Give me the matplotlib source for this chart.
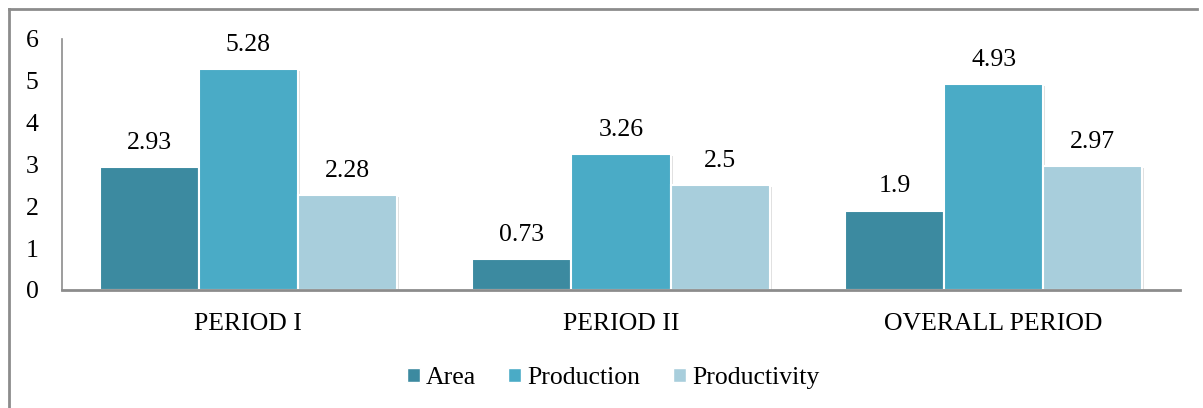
import matplotlib
matplotlib.use("Agg")
import matplotlib.pyplot as plt
from matplotlib.lines import Line2D
from matplotlib.patches import Patch
import matplotlib.patheffects as pe
import numpy as np

categories = ["PERIOD I", "PERIOD II", "OVERALL PERIOD"]
series_names = ["Area", "Production", "Productivity"]
area = [2.93, 0.73, 1.9]
production = [5.28, 3.26, 4.93]
productivity = [2.28, 2.5, 2.97]
value_labels = [["2.93", "0.73", "1.9"], ["5.28", "3.26", "4.93"], ["2.28", "2.5", "2.97"]]
colors = ["#3C8AA0", "#4AABC6", "#A8CEDC"]
yticks = [0, 1, 2, 3, 4, 5, 6]

plt.rcParams["font.family"] = ["Liberation Serif", "DejaVu Serif"]
FS = 18.5

W, H = 1203, 408
fig = plt.figure(figsize=(W / 100, H / 100), dpi=100)
ax = fig.add_axes([62 / W, (H - 290) / H, (1180 - 62) / W, (290 - 39) / H])

x = np.arange(len(categories))
bw = 0.266
data = [area, production, productivity]
shadow = [pe.SimplePatchShadow(offset=(1.5, -1.5), shadow_rgbFace="#000000", alpha=0.12), pe.Normal()]
for i, (vals, col, name) in enumerate(zip(data, colors, series_names)):
    pos = x + (i - 1) * bw
    bars = ax.bar(pos, vals, width=bw, color=col, edgecolor="white", linewidth=1.5, label=name, zorder=2)
    for b in bars:
        b.set_path_effects(shadow)
    for b, lab in zip(bars, value_labels[i]):
        ax.annotate(lab, (b.get_x() + b.get_width() / 2, b.get_height()),
                    xytext=(0, 13), textcoords="offset points",
                    ha="center", va="baseline", fontsize=FS, color="black")

ax.set_xlim(-0.5, len(categories) - 0.5)
ax.set_ylim(0, 6)
ax.set_yticks(yticks)
ax.set_yticklabels([str(t) for t in yticks], fontsize=FS)
ax.set_xticks(x)
ax.set_xticklabels(categories, fontsize=FS)
ax.tick_params(axis="y", length=0, pad=17)
ax.tick_params(axis="x", length=0, pad=16.5)
for s in ["top", "right"]:
    ax.spines[s].set_visible(False)
ax.spines["left"].set_color("#8c8c8c")
ax.spines["left"].set_linewidth(1.2)
ax.spines["bottom"].set_color("#8c8c8c")
ax.spines["bottom"].set_linewidth(2)
ax.spines["bottom"].set_zorder(3)

handles = [Patch(facecolor=c, edgecolor="white", label=n) for c, n in zip(colors, series_names)]
fig.legend(handles=handles, loc="center", bbox_to_anchor=(613 / W, (H - 378) / H),
           ncol=3, frameon=False, fontsize=FS, handlelength=0.5, handleheight=0.5,
           handletextpad=0.25, columnspacing=1.25)

# outer chart border (left and top visible)
fig.add_artist(Line2D([8.5 / W, 8.5 / W], [0, (H - 8.5) / H], transform=fig.transFigure, color="#8c8c8c", lw=2))
fig.add_artist(Line2D([8.5 / W, 1197 / W], [(H - 8.5) / H, (H - 8.5) / H], transform=fig.transFigure, color="#8c8c8c", lw=2))

fig.savefig("out.png", dpi=100)
